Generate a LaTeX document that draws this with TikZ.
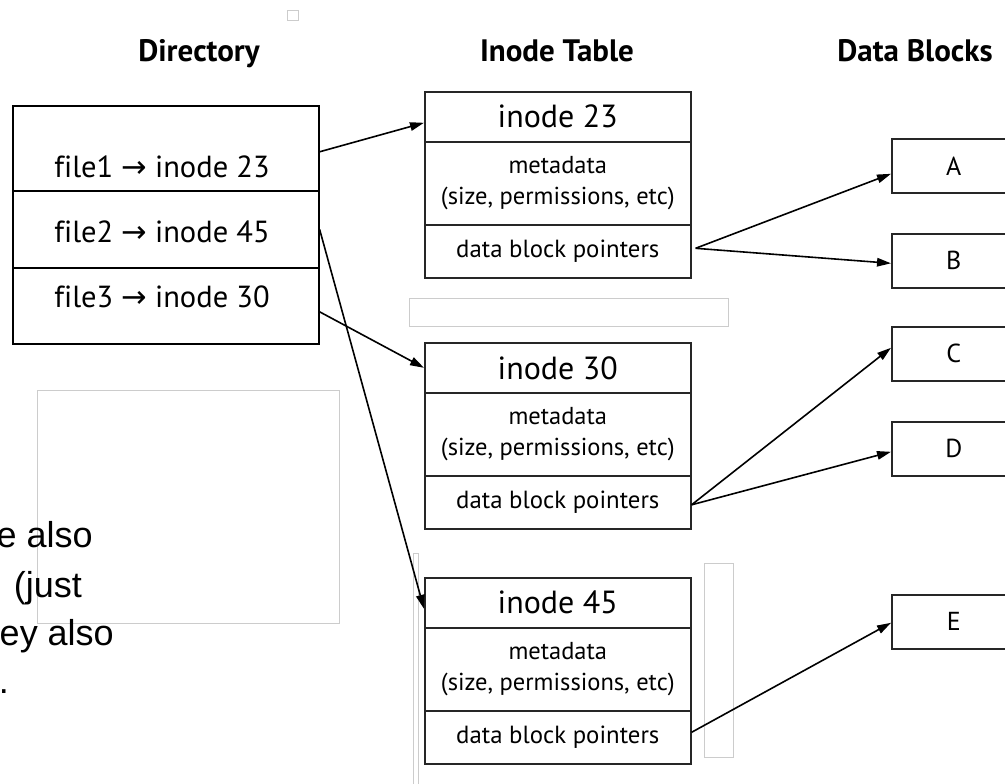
\documentclass[tikz,border=0pt]{standalone}
\usepackage{fontspec}
\setmainfont{PT Sans}[Ligatures=NoCommon]
\newfontfamily\parafont{Liberation Sans}
\newfontfamily\arrowfont{DejaVu Sans}
\usetikzlibrary{arrows.meta}
\newcommand{\rarr}{{\arrowfont →}}
\tikzset{
  cell/.style={draw=black!85, line width=1.6pt, inner sep=0pt, anchor=north west, minimum width=266pt},
  head/.style={cell, minimum height=50pt, font=\fontsize{32}{34}\selectfont},
  meta/.style={cell, minimum height=83pt, align=center, font=\fontsize{24.5}{31}\selectfont},
  ptr/.style={cell, minimum height=53pt, font=\fontsize{24.8}{28}\selectfont},
  blk/.style={draw=black!85, line width=1.6pt, inner sep=0pt, anchor=north west, minimum width=124pt, minimum height=54pt, font=\fontsize{26}{30}\selectfont},
  dcell/.style={draw=black, line width=1.6pt, inner sep=0pt, anchor=north west, minimum width=306pt},
  dtext/.style={font=\fontsize{30.5}{32}\selectfont, inner sep=0pt},
  title/.style={font=\bfseries\fontsize{31}{33}\selectfont, inner sep=0pt, anchor=base},
  para/.style={font=\parafont\fontsize{36}{40}\selectfont, inner sep=0pt, anchor=base east},
  arr/.style={line width=1.6pt, -{Triangle[length=14pt,width=8.5pt]}},
  ghost/.style={draw=black!20, line width=0.8pt}
}
\begin{document}
\begin{tikzpicture}[x=1pt,y=-1pt]
\useasboundingbox (0,0) rectangle (1005,784);
% faint background traces
\draw[ghost] (287,10) rectangle (298,20);
\draw[ghost] (409,298) rectangle (728,326);
\draw[ghost] (37,390) rectangle (339,623);
\draw[ghost] (413,553) -- (413,784) (418,553) -- (418,784) (413,553) -- (418,553);
\draw[ghost] (704,563) rectangle (733,757);
% partial paragraph text
\node[para] (p1) at (93,547) {e also};
\node[para] (p2) at (82,597) {(just};
\node[para] (p3) at (114,645) {ey also};
\node[para] (p4) at (9,693) {.};
% titles
\node[title] (t1) at (199,62) {Directory};
\node[title] (t2) at (557,62) {Inode Table};
\node[title] (t3) at (915,62) {Data Blocks};
% directory
\node[dcell, minimum height=85pt] (dirA) at (12,105) {};
\node[dcell, minimum height=77pt] (dirB) at (12,190) {};
\node[dcell, minimum height=76pt] (dirC) at (12,267) {};
\node[dtext] (f1) at (162,167) {file1 \rarr{} inode 23};
\node[dtext] (f2) at (162,232) {file2 \rarr{} inode 45};
\node[dtext] (f3) at (162,297) {file3 \rarr{} inode 30};
% inode 23
\node[head] (i23h) at (424,91) {inode 23};
\node[meta] (i23m) at (424,141) {metadata\\(size, permissions, etc)};
\node[ptr]  (i23p) at (424,224) {data block pointers};
% inode 30
\node[head] (i30h) at (424,342) {inode 30};
\node[meta] (i30m) at (424,392) {metadata\\(size, permissions, etc)};
\node[ptr]  (i30p) at (424,475) {data block pointers};
% inode 45
\node[head] (i45h) at (424,577) {inode 45};
\node[meta] (i45m) at (424,627) {metadata\\(size, permissions, etc)};
\node[ptr]  (i45p) at (424,710) {data block pointers};
% data blocks
\node[blk] (A) at (891,138) {A};
\node[blk] (B) at (891,233) {B};
\node[blk] (C) at (891,326) {C};
\node[blk] (D) at (891,421) {D};
\node[blk] (E) at (891,594) {E};
% connectors
\draw[arr] ([yshift=-3.5pt]dirA.east) -- ([yshift=-6pt]i23h.west);
\draw[arr] (dirB.east) -- ([yshift=-6pt]i45h.west);
\draw[arr] ([yshift=-6pt]dirC.east) -- (i30h.west);
\draw[arr] ([xshift=4pt,yshift=3pt]i23p.east) -- ([yshift=-8pt]A.west);
\draw[arr] ([xshift=4pt,yshift=3pt]i23p.east) -- ([yshift=-2.5pt]B.west);
\draw[arr] ([yshift=-2.5pt]i30p.east) -- ([yshift=6pt]C.west);
\draw[arr] ([yshift=-2.5pt]i30p.east) -- ([yshift=-3pt]D.west);
\draw[arr] ([yshift=5pt]i45p.east) -- ([yshift=-1pt]E.west);
\end{tikzpicture}
\end{document}
